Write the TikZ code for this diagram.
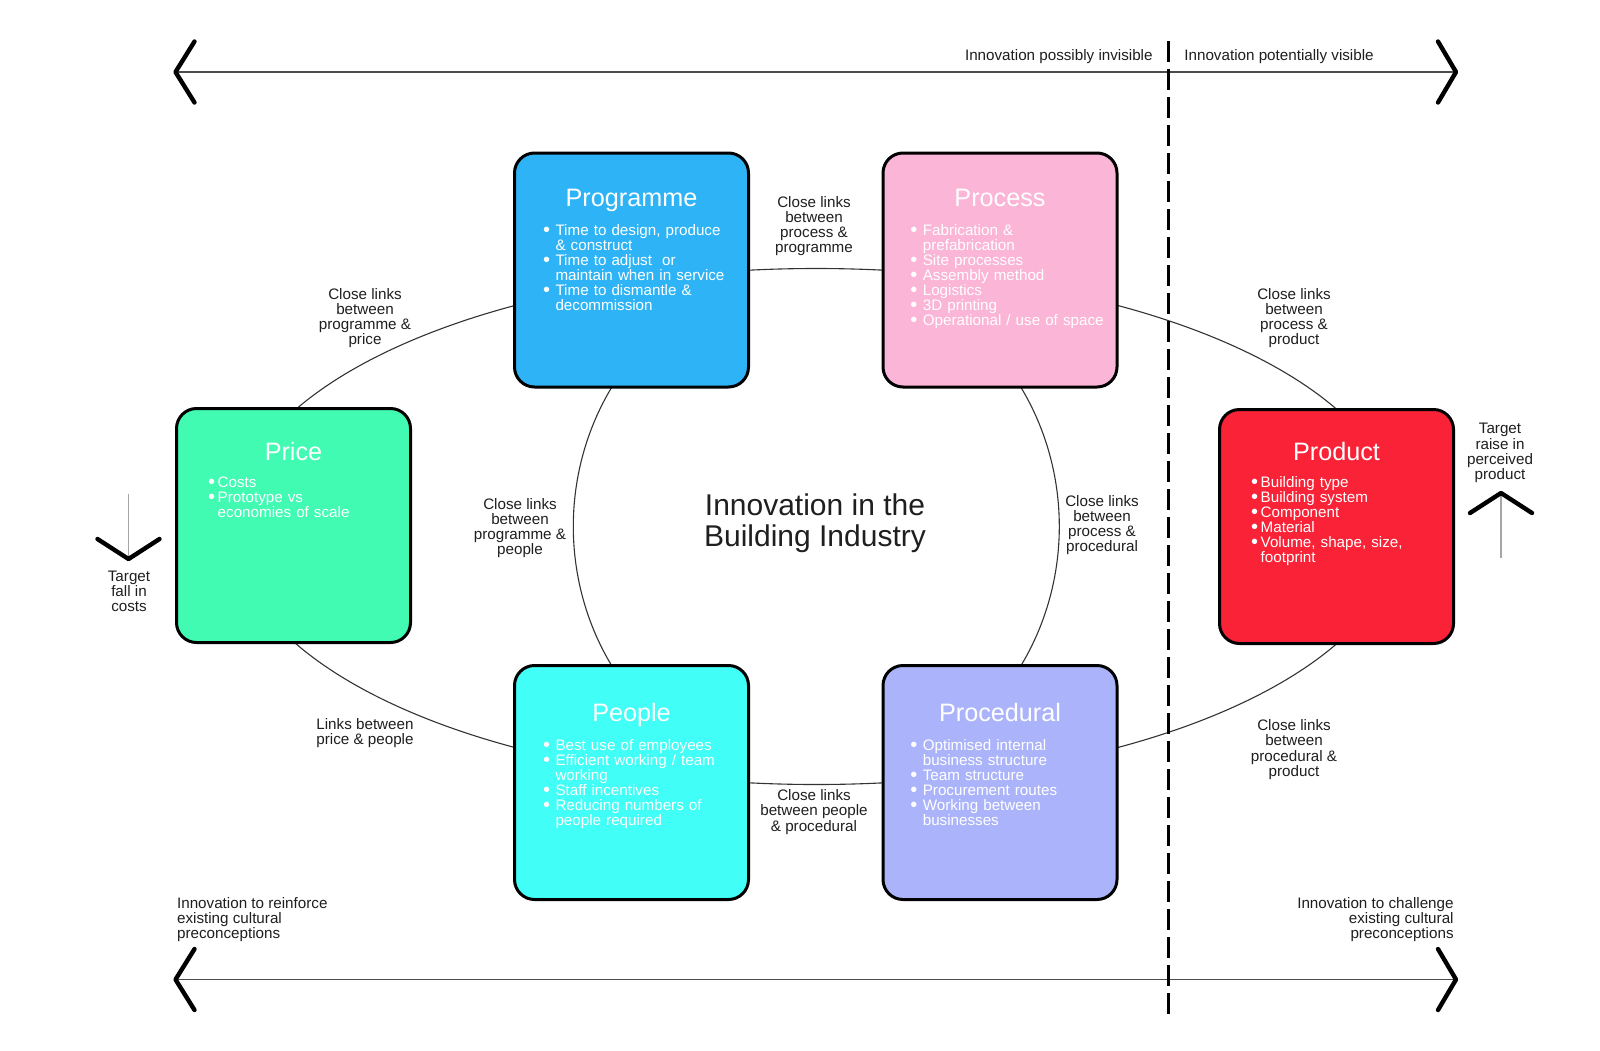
\documentclass[tikz,border=0pt]{standalone}
\usepackage{fontspec}
\setmainfont{Liberation Sans}
\usepackage{tikz}
\usetikzlibrary{positioning}
\usetikzlibrary{calc}

\definecolor{progblue}{RGB}{46,180,246}
\definecolor{procpink}{RGB}{251,181,215}
\definecolor{pricegreen}{RGB}{65,251,178}
\definecolor{prodred}{RGB}{249,34,54}
\definecolor{peoplecyan}{RGB}{65,254,246}
\definecolor{procdlilac}{RGB}{171,180,250}

\newlength{\bulw}
\setlength{\bulw}{6.2pt}
\newcommand{\bulitem}{\hangindent=\bulw\hangafter=1\noindent\makebox[\bulw][l]{\raisebox{-0.6pt}{\fontsize{10}{10}\selectfont\textbullet}}}
\newcommand{\bul}{\par\bulitem}

\tikzstyle{box}=[draw=black,line width=1.5pt,rounded corners=10pt,minimum width=117pt,minimum height=117pt,inner sep=0pt]
\tikzstyle{boxtitle}=[anchor=base,text=white,inner sep=0pt,font=\fontsize{12.6}{13}\selectfont]
\tikzstyle{boxlist}=[anchor=base west,text=white,text width=110pt,align=left,inner sep=0pt,font=\fontsize{7.6}{7.55}\selectfont]
\tikzstyle{link}=[align=center,inner sep=0pt,text=black!88,font=\fontsize{7.6}{7.6}\selectfont]
\tikzstyle{chevron}=[draw=black,line width=2.2pt,line cap=round,line join=round]
\tikzstyle{axis}=[draw=black!70,line width=0.6pt]
\tikzstyle{ring}=[draw=black!80,line width=0.55pt]
\tikzstyle{target}=[draw=black!35,line width=0.7pt]

\begin{document}
\begin{tikzpicture}[x=0.5pt, y=-0.5pt]

  \path[fill=white, use as bounding box] (0,0) rectangle (1600,1050);

  % the rings behind the boxes
  \coordinate (hub) at (816.3,526.5);
  \draw[ring] (hub) ellipse [x radius=584, y radius=258];
  \draw[ring] (hub) ++(230:243 and 258) arc [start angle=230, end angle=130, x radius=243, y radius=258];
  \draw[ring] (hub) ++(-50:243 and 258) arc [start angle=-50, end angle=50, x radius=243, y radius=258];

  \node[link, font=\fontsize{15}{15.3}\selectfont] (theme) at (815,523) {Innovation in the\\Building Industry};

  \foreach \name/\x/\y/\col/\title/\ty in {programme/631.5/270/progblue/Programme/206.7,
      process/1000/270/procpink/Process/206.7, price/293.5/525.5/pricegreen/Price/460,
      product/1336.5/526.5/prodred/Product/460, people/631.5/782.5/peoplecyan/People/721,
      procedural/1000/782.5/procdlilac/Procedural/721}
  {
    \node[box, fill=\col] (\name) at (\x,\y) {};
    \node[boxtitle] (\name-t) at (\x,\ty) {\title};
  }

  \node[boxlist] (programme-l) at (542.7,235) {\bulitem Time to design, produce\newline \& construct
    \bul Time to adjust\ \ or\newline maintain when in service \bul Time to dismantle \&\newline decommission\par};
  \node[boxlist] (process-l) at (910,235) {\bulitem Fabrication \&\newline prefabrication \bul Site processes
    \bul Assembly method \bul Logistics \bul 3D printing \bul Operational / use of space\par};
  \node[boxlist] (price-l) at (207.7,487.3) {\setlength{\bulw}{4.8pt}\bulitem Costs
    \bul Prototype vs\newline economies of scale\par};
  \node[boxlist] (product-l) at (1250.7,487.3) {\setlength{\bulw}{4.8pt}\bulitem Building type
    \bul Building system \bul Component \bul Material \bul Volume, shape, size,\newline footprint\par};
  \node[boxlist] (people-l) at (542.7,750) {\bulitem Best use of employees \bul Efficient working / team\newline working
    \bul Staff incentives \bul Reducing numbers of\newline people required\par};
  \node[boxlist] (procedural-l) at (910,750) {\bulitem Optimised internal\newline business structure
    \bul Team structure \bul Procurement routes \bul Working between\newline businesses\par};

  \foreach \name/\x/\y/\txt in {procprog/814/226/{Close links\\between\\process \&\\programme},
      progprice/365/318/{Close links\\between\\programme \&\\price},
      procprod/1294/318/{Close links\\between\\process \&\\product},
      progpeople/520/528/{Close links\\between\\programme \&\\people},
      procprocd/1102/525/{Close links\\between\\process \&\\procedural},
      pricepeople/365/733/{Links between\\price \& people},
      peopleprocd/814/812/{Close links\\between people\\\& procedural},
      procdprod/1294/749.5/{Close links\\between\\procedural \&\\product}}
    \node[link] (\name) at (\x,\y) {\txt};

  % top and bottom scales
  \coordinate (tl) at (175.5,72);
  \coordinate (tr) at (1456,72);
  \coordinate (bl) at (175.5,979.5);
  \coordinate (br) at (1456,979.5);
  \draw[axis] (tl) -- (tr);
  \draw[axis] (bl) -- (br);
  \foreach \p in {tl,bl}
    \draw[chevron] ($(\p)+(19,-30.5)$) -- (\p) -- ($(\p)+(19,30.5)$);
  \foreach \p in {tr,br}
    \draw[chevron] ($(\p)+(-18,-30.5)$) -- (\p) -- ($(\p)+(-18,30.5)$);

  \node[link, anchor=east] (invisible) at (1153,57) {Innovation possibly invisible};
  \node[link, anchor=west] (visible) at (1184,57) {Innovation potentially visible};
  \node[link, anchor=west, align=left] (reinforce) at (176.7,919.5) {Innovation to reinforce\\existing cultural\\preconceptions};
  \node[link, anchor=east, align=right] (challenge) at (1454,919.5) {Innovation to challenge\\existing cultural\\preconceptions};

  % divider
  \coordinate (dtop) at (1168,41);
  \coordinate (dbot) at (1168,1017);
  \draw[black, line width=1.5pt, dash pattern=on 10.5pt off 3.5pt] (dtop) -- (dbot);

  % targets
  \coordinate (fallt) at (128.5,494);
  \coordinate (fallb) at (128.5,559);
  \draw[target] (fallt) -- (fallb);
  \draw[chevron] ($(fallb)+(-31,-20)$) -- (fallb) -- ($(fallb)+(31,-20)$);
  \node[link] (fall) at (129,591.5) {Target\\fall in\\costs};

  \coordinate (raiset) at (1501,493);
  \coordinate (raiseb) at (1501,558);
  \draw[target] (raiset) -- (raiseb);
  \draw[chevron] ($(raiset)+(-31,20)$) -- (raiset) -- ($(raiset)+(31,20)$);
  \node[link] (raise) at (1500,453) {Target\\raise in\\perceived\\product};

\end{tikzpicture}
\end{document}
